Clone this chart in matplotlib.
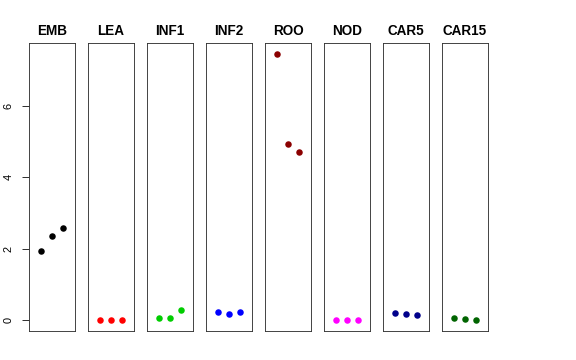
import numpy as np
import matplotlib.pyplot as plt

plt.rcParams['font.family'] = ['Liberation Sans', 'DejaVu Sans']

tissues = ["EMB", "LEA", "INF1", "INF2", "ROO", "NOD", "CAR5", "CAR15"]
emb = [1.93, 2.37, 2.58]
lea = [0.0, 0.0, 0.0]
inf1 = [0.06, 0.06, 0.28]
inf2 = [0.23, 0.17, 0.23]
roo = [7.46, 4.94, 4.70]
nod = [0.0, 0.0, 0.0]
car5 = [0.20, 0.17, 0.16]
car15 = [0.06, 0.04, 0.0]
values = [emb, lea, inf1, inf2, roo, nod, car5, car15]
colors = ["black", "red", "#00CD00", "blue", "#8B0000", "magenta", "#00008B", "#006400"]
yticks = [0, 2, 4, 6]

W, H = 576, 360
fig = plt.figure(figsize=(W / 72, H / 72), dpi=72)

ymin, ymax = 0.0, max(max(v) for v in values)
pad = 0.04 * (ymax - ymin)

for i, (name, vals, col) in enumerate(zip(tissues, values, colors)):
    left = 29 + i * 59
    ax = fig.add_axes([left / W, (H - 331) / H, 46 / W, 288 / H])
    x = np.arange(1, len(vals) + 1)
    ax.plot(x, vals, "o", color=col, markersize=6.5, markeredgewidth=0)
    ax.set_xlim(-0.16, 4.16)
    ax.set_ylim(ymin - pad, ymax + pad)
    ax.set_xticks([])
    for s in ax.spines.values():
        s.set_color("#333333")
        s.set_linewidth(0.9)
    ax.set_title(name, fontsize=13.5, fontweight="bold", pad=8)
    if i == 0:
        ax.set_yticks(yticks)
        ax.set_yticklabels([str(t) for t in yticks], rotation=90, va="center", fontsize=11)
        ax.tick_params(axis="y", length=7, width=0.8, pad=8)
    else:
        ax.set_yticks([])

fig.savefig("out.png", dpi=72)
